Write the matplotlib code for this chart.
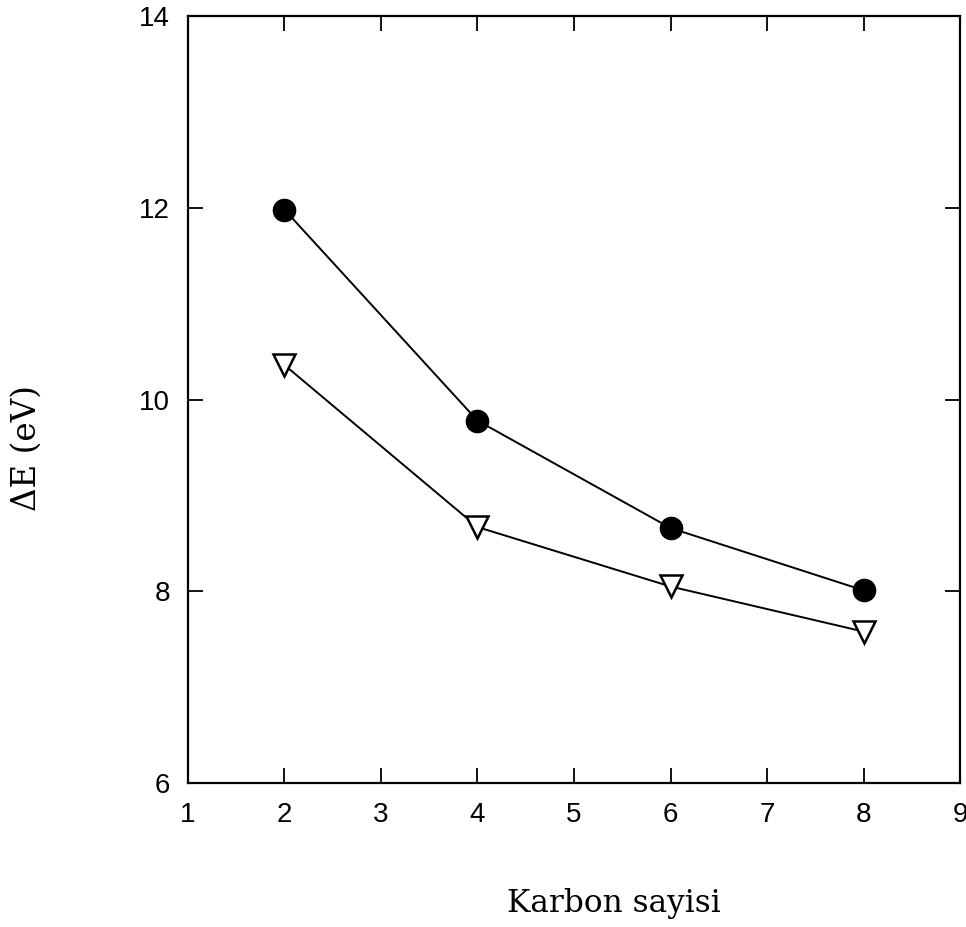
import matplotlib
matplotlib.use("Agg")
import matplotlib.pyplot as plt

# Veriler
karbon = [2, 4, 6, 8]
dE_dolu = [11.98, 9.78, 8.66, 8.01]    # dolu daireler
dE_bos = [10.36, 8.67, 8.05, 7.58]     # boş üçgenler

x_ticks = [1, 2, 3, 4, 5, 6, 7, 8, 9]
y_ticks = [6, 8, 10, 12, 14]

plt.rcParams['font.family'] = ['Liberation Sans', 'DejaVu Sans']

fig = plt.figure(figsize=(9.66, 9.27), dpi=100)
ax = fig.add_axes([0.1946, 0.1553, 0.7992, 0.8274])

ax.plot(karbon, dE_dolu, '-o', color='black', lw=1.4, ms=16,
        mfc='black', mec='black', zorder=3)
ax.plot(karbon, dE_bos, '-v', color='black', lw=1.4, ms=16,
        mfc='white', mec='black', mew=1.8, zorder=3)

ax.set_xlim(1, 9)
ax.set_ylim(6, 14)
ax.set_xticks(x_ticks)
ax.set_yticks(y_ticks)

for s in ax.spines.values():
    s.set_linewidth(1.6)

ax.tick_params(direction='in', length=11, width=1.3, top=True, right=True,
               labelsize=20, colors='black')
ax.tick_params(axis='x', pad=14)
ax.tick_params(axis='y', pad=13)

etiket = dict(family=['DejaVu Serif'])
ax.set_xlabel('Karbon sayisi', fontsize=22.5, **etiket)
ax.set_ylabel('ΔE (eV)', fontsize=23.5, **etiket)
ax.xaxis.set_label_coords(0.552, -0.137)
ax.yaxis.set_label_coords(-0.188, 0.437)

plt.savefig("out.png", dpi=100)
plt.close()
